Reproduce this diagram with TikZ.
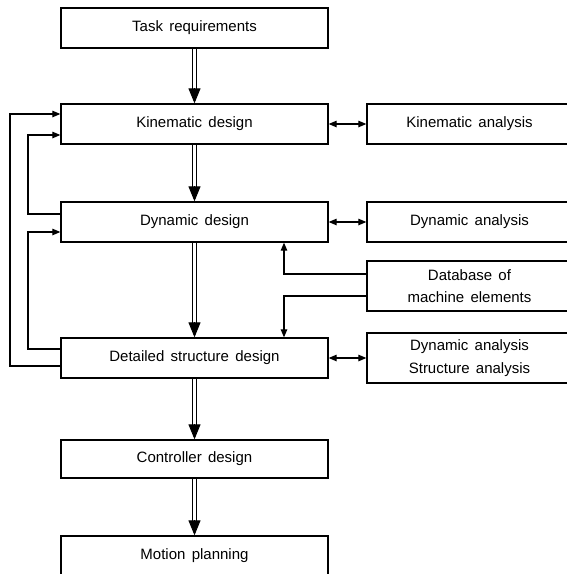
\documentclass[tikz,border=0pt]{standalone}
\usepackage{fontspec}
\setmainfont{Liberation Sans}
\usetikzlibrary{arrows.meta}
\newcommand\myboxfont{\fontsize{15}{22.5}\selectfont\spaceskip=0.42em plus 0.1em\relax}
\begin{document}
\begin{tikzpicture}[x=1pt,y=-1pt,
  box/.style={draw, line width=1.3pt, rectangle, inner sep=0pt, align=center,
    font=\myboxfont},
  lbox/.style={box, minimum width=267pt, minimum height=40pt},
  rbox/.style={box, minimum width=205pt, minimum height=40pt},
  mainline/.style={line width=0.9pt, shorten >=8pt},
  maintip/.style={line width=0.9pt, -{Triangle[length=15pt,width=12pt]}},
  fb/.style={line width=1.2pt, -{Triangle[length=8pt,width=6.5pt]}},
  bi/.style={line width=1.2pt, {Triangle[length=8pt,width=6.5pt]}-{Triangle[length=8pt,width=6.5pt]}}
]
\useasboundingbox (0,0) rectangle (566,574);
\node[lbox] (task) at (194.5,28) {Task requirements};
\node[lbox] (kin) at (194.5,124) {Kinematic design};
\node[lbox] (dyn) at (194.5,222) {Dynamic design};
\node[lbox] (det) at (194.5,358) {Detailed structure design};
\node[lbox, minimum height=38pt] (ctl) at (194.5,459) {Controller design};
\node[lbox] (mot) at (194.5,556) {Motion planning};
\node[rbox] (kina) at (469.5,124) {Kinematic analysis};
\node[rbox] (dyna) at (469.5,222) {Dynamic analysis};
\node[rbox, minimum height=50pt] (db) at (469.5,286) {Database of\\machine elements};
\node[rbox, minimum height=50pt] (dsa) at (469.5,358) {Dynamic analysis\\Structure analysis};
% main flow (double shafts)
\foreach \a/\b in {task/kin, kin/dyn, dyn/det, det/ctl, ctl/mot} {
  \draw[mainline, transform canvas={xshift=-1.8pt}] (\a) -- (\b);
  \draw[mainline, transform canvas={xshift=1.8pt}] (\a) -- (\b);
  \draw[maintip] ([yshift=15pt]\b.north) -- (\b.north);
}
% analysis links
\draw[bi] (kin) -- (kina);
\draw[bi] (dyn) -- (dyna);
\draw[bi] (det) -- (dsa);
% feedback
\coordinate (o1) at (10,366);
\coordinate (o2) at (10,114);
\coordinate (i1) at (28,214);
\coordinate (i2) at (28,135);
\coordinate (j1) at (28,349);
\coordinate (j2) at (28,232);
\draw[fb] (det.west |- o1) -- (o1) -- (o2) -- (kin.west |- o2);
\draw[fb] (dyn.west |- i1) -- (i1) -- (i2) -- (kin.west |- i2);
\draw[fb] (det.west |- j1) -- (j1) -- (j2) -- (dyn.west |- j2);
% database
\coordinate (d1) at (284,274);
\coordinate (d2) at (284,296);
\draw[fb] (db.west |- d1) -- (d1) -- (dyn.south -| d1);
\draw[fb] (db.west |- d2) -- (d2) -- (det.north -| d2);
\end{tikzpicture}
\end{document}
